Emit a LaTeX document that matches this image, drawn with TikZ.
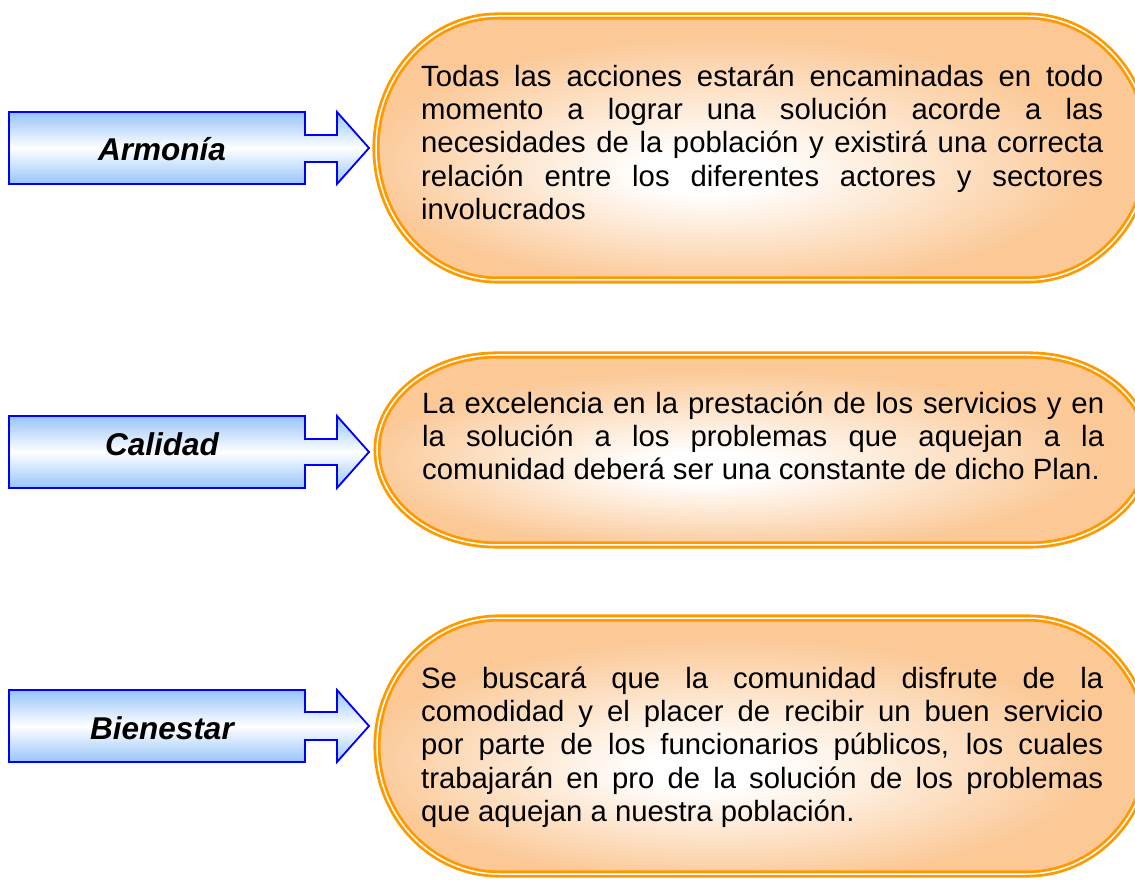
\documentclass[tikz,border=0pt]{standalone}
\usepackage{fontspec}
\setmainfont{Liberation Sans}
\definecolor{pillorange}{RGB}{255,153,0}
\definecolor{pillfill}{RGB}{251,200,150}
\definecolor{arrowblue}{RGB}{150,196,250}
\definecolor{arrowline}{RGB}{0,0,255}
\pgfdeclareradialshading{orangeglow}{\pgfpoint{-4bp}{-5bp}}{color(0bp)=(white); color(4bp)=(white); color(24bp)=(pillfill); color(50bp)=(pillfill)}
\hyphenpenalty=10000
\exhyphenpenalty=10000
\tolerance=9999
\tikzset{
  pill/.style={shading=orangeglow, draw=pillorange, line width=2.8pt, double=white, double distance=1.5pt},
  tag/.style={top color=arrowblue, bottom color=arrowblue, middle color=white, draw=arrowline, line width=1.8pt, line join=miter},
  bodytext/.style={anchor=north west, inner sep=0pt, text width=682pt, align=justify,
    font=\fontsize{29.3}{33.3}\selectfont},
  tagtext/.style={anchor=base, inner sep=0pt, font=\fontsize{31.5}{36}\selectfont\bfseries\itshape}
}
\begin{document}
\begin{tikzpicture}[x=1pt,y=1pt]
\path[use as bounding box] (0,0) rectangle (1135,879);
\clip (0,0) rectangle (1135,879);

% orange pills
\shadedraw[pill] (498,863) -- (1027,863) arc[start angle=90,end angle=-90,x radius=122,y radius=132] -- (498,599) arc[start angle=270,end angle=90,x radius=122,y radius=132] -- cycle;
\shadedraw[pill] (497,524) -- (1029,524) arc[start angle=90,end angle=-90,x radius=120,y radius=95] -- (497,334) arc[start angle=270,end angle=90,x radius=120,y radius=95] -- cycle;
\shadedraw[pill] (499,261) -- (1027,261) arc[start angle=90,end angle=-90,x radius=122,y radius=128] -- (499,5) arc[start angle=270,end angle=90,x radius=122,y radius=128] -- cycle;

% blue arrows
\shadedraw[tag] (9,767) -- (305,767) -- (305,744) -- (337,744) -- (337,767) -- (369,731) -- (337,695) -- (337,717) -- (305,717) -- (305,695) -- (9,695) -- cycle;
\shadedraw[tag] (9,463) -- (305,463) -- (305,440) -- (337,440) -- (337,463) -- (369,427) -- (337,391) -- (337,414) -- (305,414) -- (305,391) -- (9,391) -- cycle;
\shadedraw[tag] (9,189) -- (305,189) -- (305,167) -- (337,167) -- (337,189) -- (369,153) -- (337,117) -- (337,139) -- (305,139) -- (305,117) -- (9,117) -- cycle;

% arrow labels
\node[tagtext] (armonia) at (162,718) {Armonía};
\node[tagtext] (calidad) at (162,423) {Calidad};
\node[tagtext] (bienestar) at (162,140) {Bienestar};

% texts
\node[bodytext] (t1) at (421,816.3) {\strut Todas las acciones estarán encaminadas en todo\linebreak momento a lograr una solución acorde a las\linebreak necesidades de la población y existirá una correcta\linebreak relación entre los diferentes actores y sectores\linebreak involucrados};
\node[bodytext] (t2) at (422,489.3) {\strut La excelencia en la prestación de los servicios y en\linebreak la solución a los problemas que aquejan a la\linebreak comunidad deberá ser una constante de dicho Plan.};
\node[bodytext] (t3) at (421,214.3) {\strut Se buscará que la comunidad disfrute de la\linebreak comodidad y el placer de recibir un buen servicio\linebreak por parte de los funcionarios públicos, los cuales\linebreak trabajarán en pro de la solución de los problemas\linebreak que aquejan a nuestra población.};
\end{tikzpicture}
\end{document}
